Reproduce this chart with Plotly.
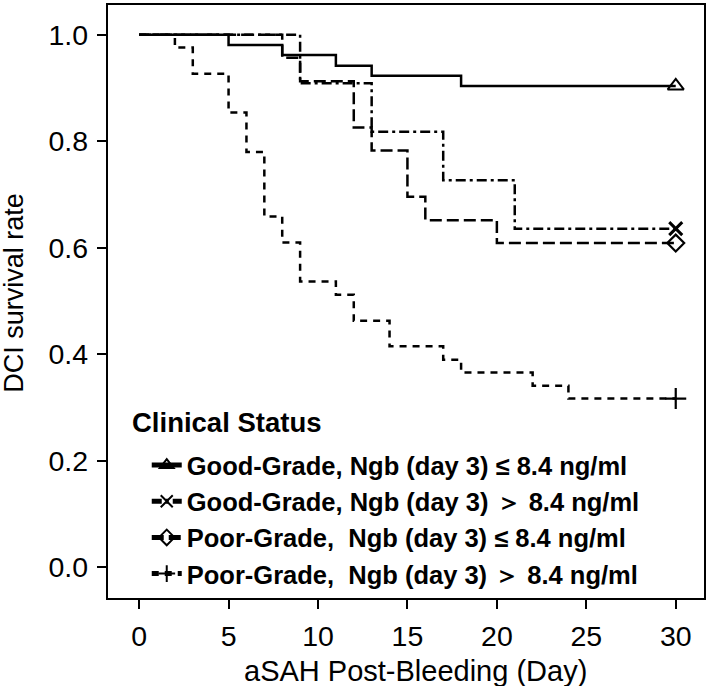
import plotly.graph_objects as go

# ---- data ----
good_low_days = [0, 5, 8, 11, 13, 18, 30]
good_low_surv = [1.0, 0.981, 0.962, 0.942, 0.923, 0.904, 0.904]

good_high_days = [0, 9, 13, 17, 21, 30]
good_high_surv = [1.0, 0.909, 0.818, 0.727, 0.636, 0.636]

poor_low_days = [0, 8, 9, 12, 13, 15, 16, 20, 30]
poor_low_surv = [1.0, 0.957, 0.913, 0.826, 0.783, 0.696, 0.652, 0.609, 0.609]

poor_high_days = [0, 2, 3, 5, 6, 7, 8, 9, 11, 12, 14, 17, 18, 22, 24, 30]
poor_high_surv = [1.0, 0.976, 0.927, 0.854, 0.780, 0.659, 0.610, 0.537, 0.512,
                  0.463, 0.415, 0.390, 0.366, 0.341, 0.317, 0.317]

series_names = [
    "Good-Grade, Ngb (day 3) ≤ 8.4 ng/ml",
    "Good-Grade, Ngb (day 3) ＞ 8.4 ng/ml",
    "Poor-Grade,\u00a0 Ngb (day 3) ≤ 8.4 ng/ml",
    "Poor-Grade,\u00a0 Ngb (day 3) ＞ 8.4 ng/ml",
]
x_ticks = [0, 5, 10, 15, 20, 25, 30]
y_ticks = [0.0, 0.2, 0.4, 0.6, 0.8, 1.0]

# ---- styles ----
FONT = "Arial, Liberation Sans, sans-serif"
styles = [
    dict(dash="solid", symbol="triangle-up-open", size=14, mlw=2),
    dict(dash="10px,4px,3px,4px", symbol="x-thin-open", size=13, mlw=3),
    dict(dash="12px,5px", symbol="diamond-open", size=13, mlw=2.2),
    dict(dash="7px,6px", symbol="cross-thin-open", size=15, mlw=2.2),
]
all_data = [
    (good_low_days, good_low_surv),
    (good_high_days, good_high_surv),
    (poor_low_days, poor_low_surv),
    (poor_high_days, poor_high_surv),
]

fig = go.Figure()
for (days, surv), name, st in zip(all_data, series_names, styles):
    fig.add_trace(go.Scatter(
        x=days, y=surv, mode="lines", line_shape="hv",
        line=dict(color="black", width=2.5, dash=st["dash"]),
        showlegend=False, legendgroup=name, hoverinfo="skip"))
    fig.add_trace(go.Scatter(
        x=[days[-1]], y=[surv[-1]], mode="lines+markers", name=name,
        legendgroup=name,
        line=dict(color="black", width=2, dash=st["dash"]),
        marker=dict(symbol=st["symbol"], size=st["size"], color="black",
                    line=dict(color="black", width=st["mlw"]))))

axis_common = dict(
    showline=True, linecolor="black", linewidth=2.3, mirror=True,
    ticks="outside", ticklen=9, tickwidth=2.3, tickcolor="black",
    showgrid=False, zeroline=False, ticklabelstandoff=3,
    tickfont=dict(family=FONT, size=28.5, color="black"),
)

fig.update_layout(
    width=709, height=686,
    margin=dict(l=108, r=4, t=3, b=88),
    plot_bgcolor="white", paper_bgcolor="white",
    xaxis=dict(range=[-1.74, 31.58], tickvals=x_ticks, **axis_common),
    yaxis=dict(range=[-0.0575, 1.056], tickvals=y_ticks, tickformat=".1f",
               **axis_common),
    legend=dict(
        x=0.065, y=0.263, xanchor="left", yanchor="top",
        bgcolor="rgba(0,0,0,0)", borderwidth=0,
        font=dict(family=FONT, size=25.5, color="black", weight=700),
        itemsizing="constant", tracegroupgap=0,
    ),
    annotations=[
        dict(text="Clinical Status", xref="paper", yref="paper",
             x=0.0369, y=0.2958, xanchor="left", yanchor="middle",
             showarrow=False,
             font=dict(family=FONT, size=27.5, color="black", weight=700)),
        dict(text="DCI survival rate", xref="paper", yref="paper",
             x=-0.158, y=0.5146, xanchor="center", yanchor="middle",
             textangle=-90, showarrow=False,
             font=dict(family=FONT, size=27, color="black")),
        dict(text="aSAH Post-Bleeding (Day)", xref="paper", yref="paper",
             x=0.516, y=-0.123, xanchor="center", yanchor="middle",
             showarrow=False,
             font=dict(family=FONT, size=29, color="black")),
    ],
)

fig.write_html("out.html",
               config={"displayModeBar": False},
               post_script="document.body.style.margin='0px';"
                           "document.body.style.padding='0px';")
